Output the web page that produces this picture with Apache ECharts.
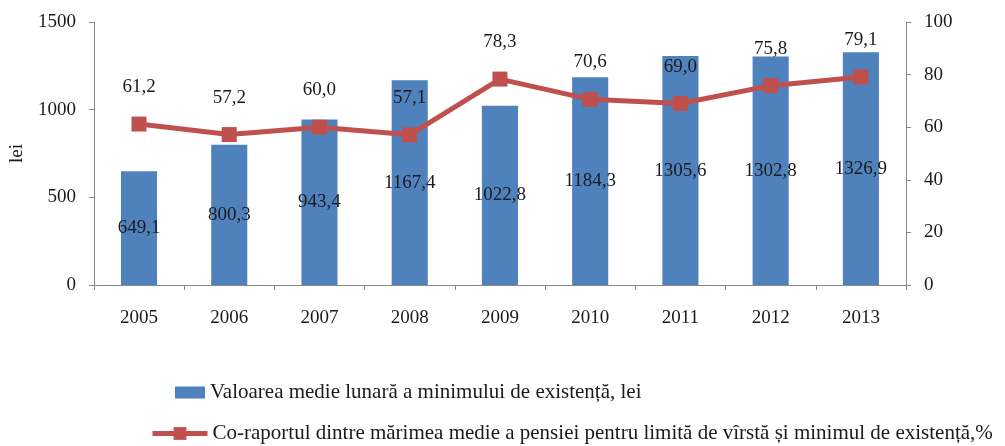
<!DOCTYPE html>
<html>
<head>
<meta charset="utf-8">
<script src="https://cdn.jsdelivr.net/npm/echarts@6/dist/echarts.min.js"></script>
<style>
  html, body { margin: 0; padding: 0; background: #fff; }
  #chart { width: 1005px; height: 446px; }
</style>
</head>
<body>
<div id="chart"></div>
<script>
var years = ['2005', '2006', '2007', '2008', '2009', '2010', '2011', '2012', '2013'];
var minimumValues = [649.1, 800.3, 943.4, 1167.4, 1022.8, 1184.3, 1305.6, 1302.8, 1326.9];
var ratioValues = [61.2, 57.2, 60.0, 57.1, 78.3, 70.6, 69.0, 75.8, 79.1];
var leftTicks = [0, 1500, 500];   // min, max, interval
var rightTicks = [0, 100, 20];

var barName = 'Valoarea medie lunară a minimului de existență, lei';
var lineName = 'Co-raportul dintre mărimea medie a pensiei pentru limită de vîrstă și minimul de existență,%';

var font = 'Liberation Serif';
var textColor = '#1a1a1a';
var axisColor = '#888';

function comma(v) {
	return v.toFixed(1).replace('.', ',');
}

var legendText = { fontFamily: font, fontSize: 21, color: textColor };

var myChart = echarts.init(document.getElementById('chart'));
var option = {
	animation: false,
	textStyle: { fontFamily: font, color: textColor },
	grid: { left: 92, right: 99, top: 22, bottom: 161 },
	legend: [
		{
			data: [barName],
			orient: 'vertical',
			left: 170, top: 377,
			itemWidth: 30, itemHeight: 12,
			icon: 'rect',
			textStyle: legendText
		},
		{
			data: [lineName],
			orient: 'vertical',
			left: 145, top: 418,
			itemWidth: 55, itemHeight: 16,
			lineStyle: { width: 5 },
			textStyle: legendText
		}
	],
	xAxis: {
		type: 'category',
		data: years,
		axisLine: { lineStyle: { color: axisColor } },
		axisTick: { show: true, length: 5, lineStyle: { color: axisColor } },
		axisLabel: { fontFamily: font, fontSize: 19, color: textColor, margin: 24 }
	},
	yAxis: [
		{
			type: 'value',
			min: leftTicks[0], max: leftTicks[1], interval: leftTicks[2],
			name: 'lei',
			nameLocation: 'middle',
			nameGap: 66,
			nameRotate: 90,
			nameTextStyle: { fontFamily: font, fontSize: 19, color: textColor },
			axisLine: { show: true, lineStyle: { color: axisColor } },
			axisTick: { show: true, length: 5, lineStyle: { color: axisColor } },
			splitLine: { show: false },
			axisLabel: {
				fontFamily: font, fontSize: 19, color: textColor, margin: 18,
				formatter: function (v) { return String(v); }
			}
		},
		{
			type: 'value',
			min: rightTicks[0], max: rightTicks[1], interval: rightTicks[2],
			position: 'right',
			axisLine: { show: true, lineStyle: { color: axisColor } },
			axisTick: { show: true, length: 5, lineStyle: { color: axisColor } },
			splitLine: { show: false },
			axisLabel: {
				fontFamily: font, fontSize: 19, color: textColor, margin: 18,
				formatter: function (v) { return String(v); }
			}
		}
	],
	series: [
		{
			name: barName,
			type: 'bar',
			data: minimumValues,
			barWidth: '40%',
			itemStyle: { color: '#4F81BD' },
			label: {
				show: true,
				position: 'inside',
				fontFamily: font,
				fontSize: 19,
				color: textColor,
				formatter: function (p) { return comma(p.value); }
			}
		},
		{
			name: lineName,
			type: 'line',
			yAxisIndex: 1,
			data: ratioValues,
			symbol: 'rect',
			symbolSize: 15,
			lineStyle: { color: '#C0504D', width: 5 },
			itemStyle: { color: '#C0504D' },
			label: {
				show: true,
				position: 'top',
				distance: 20,
				fontFamily: font,
				fontSize: 19,
				color: textColor,
				formatter: function (p) { return comma(p.value); }
			}
		}
	]
};
myChart.setOption(option);
</script>
</body>
</html>
